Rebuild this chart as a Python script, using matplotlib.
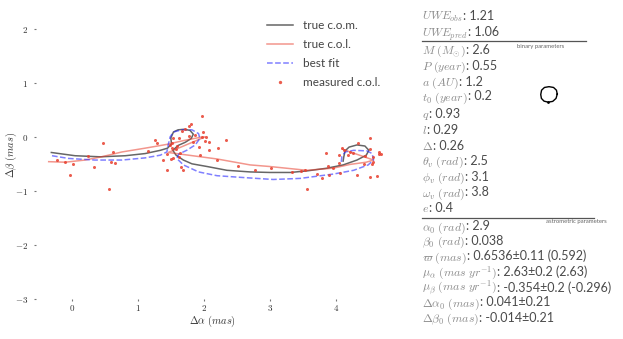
import matplotlib
matplotlib.use("Agg")
import matplotlib.pyplot as plt
from matplotlib.lines import Line2D

plt.rcParams['mathtext.fontset'] = 'cm'
plt.rcParams['font.family'] = ['Lato', 'DejaVu Sans']

# true centre of mass track (mas)
com_x = [-0.31, 0.05, 0.43, 0.81, 1.11, 1.34, 1.45, 1.51, 1.50, 1.54, 1.61, 1.70, 1.79, 1.84,
         1.81, 1.72, 1.61, 1.53, 1.58, 1.69, 1.82, 2.05, 2.35, 2.70, 3.00, 3.31, 3.57, 3.87,
         4.11, 4.32, 4.46, 4.50, 4.44, 4.32, 4.20, 4.14, 4.12, 4.11]
com_y = [-0.28, -0.34, -0.36, -0.34, -0.30, -0.24, -0.20, -0.12, -0.01, 0.10, 0.14, 0.15, 0.13, 0.06,
         -0.02, -0.09, -0.15, -0.24, -0.33, -0.42, -0.49, -0.54, -0.61, -0.64, -0.65, -0.65, -0.62, -0.57,
         -0.51, -0.42, -0.33, -0.24, -0.16, -0.14, -0.18, -0.25, -0.36, -0.44]

# true centre of light track
col_x = [-0.35, -0.10, 0.20, 0.45, 0.76, 1.11, 1.44, 1.69, 1.94, 2.02, 1.46, 2.20, 2.70, 3.00,
         3.56, 3.96, 4.22, 4.46, 4.57, 4.10]
col_y = [-0.45, -0.46, -0.42, -0.36, -0.27, -0.20, -0.13, -0.06, 0.00, 0.01, -0.28, -0.40, -0.51, -0.54,
         -0.61, -0.57, -0.50, -0.46, -0.42, -0.22]

# best fit track
fit_x = [-0.30, -0.05, 0.35, 0.76, 1.11, 1.34, 1.44, 1.46, 1.49, 1.54, 1.67, 1.82, 1.92, 1.94,
         1.87, 1.74, 1.62, 1.59, 1.69, 1.92, 2.20, 2.55, 3.05, 3.46, 3.96, 4.27, 4.49, 4.57,
         4.55, 4.47, 4.27, 4.14, 4.09, 4.08]
fit_y = [-0.34, -0.39, -0.42, -0.42, -0.38, -0.33, -0.27, -0.14, 0.01, 0.10, 0.14, 0.14, 0.07, -0.02,
         -0.14, -0.24, -0.31, -0.39, -0.51, -0.64, -0.71, -0.74, -0.78, -0.76, -0.68, -0.61, -0.51, -0.42,
         -0.30, -0.25, -0.24, -0.27, -0.36, -0.48]

# measured centre of light
obs_x = [-0.23, -0.10, 0.02, -0.03, 0.24, 0.33, 0.48, 0.62, 0.59, 0.66, 0.57, 1.26, 1.29, 1.16,
         1.38, 1.44, 1.44, 1.50, 1.53, 1.52, 1.52, 1.48, 1.54, 1.59, 1.58, 1.63, 1.64, 1.62,
         1.65, 1.69, 1.67, 1.72, 1.78, 1.80, 1.97, 1.77, 1.87, 1.84, 1.98, 1.97, 2.03, 2.02,
         1.93, 2.08, 2.08, 2.21, 2.33, 1.94, 2.20, 2.52, 2.78, 3.02, 3.33, 3.47, 3.53, 3.56,
         3.72, 3.79, 3.85, 3.88, 3.90, 3.96, 4.05, 4.06, 4.05, 4.09, 4.13, 4.18, 4.21, 4.26,
         4.34, 4.51, 4.52, 4.44, 4.56, 4.57, 4.55, 4.42, 4.66, 4.69, 4.65, 4.32, 4.52, 4.62]
obs_y = [-0.41, -0.45, -0.49, -0.69, -0.34, -0.54, -0.10, -0.28, -0.46, -0.48, -0.95, -0.04, -0.10, -0.25,
         -0.41, -0.31, -0.61, -0.40, -0.38, -0.19, -0.11, -0.14, -0.02, -0.16, -0.22, -0.02, -0.29, -0.37,
         -0.54, -0.61, 0.12, 0.15, 0.21, 0.24, 0.40, 0.02, 0.04, -0.09, 0.10, 0.00, 0.00, -0.07,
         -0.17, -0.09, -0.24, -0.20, -0.04, -0.33, -0.41, -0.53, -0.61, -0.56, -0.65, -0.62, -0.61, -0.96,
         -0.67, -0.75, -0.29, -0.53, -0.69, -0.56, -0.47, -0.66, -0.32, -0.20, -0.23, -0.33, -0.28, -0.29,
         -0.11, -0.02, -0.22, -0.34, -0.36, -0.46, -0.50, -0.50, -0.28, -0.30, -0.31, -0.69, -0.73, -0.71]

# small orbit sketch (arbitrary units)
orbit_x = [1.0, 0.9, 0.55, 0.0, -0.55, -0.9, -1.0, -0.92, -0.6, -0.1, 0.45, 0.85, 1.0]
orbit_y = [0.05, 0.55, 0.9, 1.0, 0.9, 0.55, 0.0, -0.5, -0.85, -0.98, -0.88, -0.5, 0.05]

xticks = [0, 1, 2, 3, 4]
yticks = [-3, -2, -1, 0, 1, 2]

param_labels = [r'$UWE_{obs}$', r'$UWE_{pred}$', r'$M\ (M_{\odot})$', r'$P\ (year)$', r'$a\ (AU)$',
                r'$t_0\ (year)$', r'$q$', r'$l$', r'$\Delta$', r'$\theta_v\ (rad)$', r'$\phi_v\ (rad)$',
                r'$\omega_v\ (rad)$', r'$e$', r'$\alpha_0\ (rad)$', r'$\beta_0\ (rad)$', r'$\varpi\ (mas)$',
                r'$\mu_\alpha\ (mas\ yr^{-1})$', r'$\mu_\beta\ (mas\ yr^{-1})$', r'$\Delta\alpha_0\ (mas)$',
                r'$\Delta\beta_0\ (mas)$']
param_values = ['1.21', '1.06', '2.6', '0.55', '1.2', '0.2', '0.93', '0.29', '0.26', '2.5', '3.1',
                '3.8', '0.4', '2.9', '0.038', '0.6536±0.11 (0.592)', '2.63±0.2 (2.63)',
                '-0.354±0.2 (-0.296)', '0.041±0.21', '-0.014±0.21']

# text baselines of the parameter rows, pixels from the top
row_base = [20, 36.5, 54, 70, 85.5, 100.5, 118, 133.5, 149.5, 165, 181, 196.5, 212, 230.5,
            245, 260.5, 276, 291.5, 306.5, 321.5]

W, H = 623, 339
fig = plt.figure(figsize=(W / 100, H / 100), dpi=100)
ax = fig.add_axes([35.5 / W, 1 - 299.3 / H, (390 - 35.5) / W, (299.3 - 10) / H])

ax.plot(com_x, com_y, color='k', alpha=0.6, lw=1.1, label='true c.o.m.')
ax.plot(col_x, col_y, color='#e8402f', alpha=0.55, lw=1.1, label='true c.o.l.')
ax.plot(fit_x, fit_y, color='#2b2bff', alpha=0.6, lw=1.1, ls='--', label='best fit')
ax.plot(obs_x, obs_y, ls='none', marker='o', ms=2.2, color='#e8402f', alpha=0.85,
        markeredgewidth=0, label='measured c.o.l.')

ax.set_xlim(-0.55, 4.82)
ax.set_ylim(-3.0, 2.36)
ax.set_xticks(xticks)
ax.set_yticks(yticks)
ax.set_xticklabels([f'${t}$' for t in xticks])
ax.set_yticklabels([f'${t}$' for t in yticks])
for s in ax.spines.values():
    s.set_visible(False)
ax.tick_params(length=1.5, width=0.8, color='#777777', labelsize=6.5, labelcolor='#333333')
ax.tick_params(axis='x', pad=1.5)
ax.tick_params(axis='y', pad=4)
ax.set_xlabel(r'$\Delta\alpha\ (mas)$', fontsize=7.5, labelpad=0.5, color='#333333')
ax.set_ylabel(r'$\Delta\beta\ (mas)$', fontsize=7.5, color='#333333')
ax.yaxis.set_label_coords(-0.046, 0.5)

leg = ax.legend(loc='upper right', frameon=False, fontsize=8.5, handlelength=2.2,
                labelspacing=0.68, borderaxespad=0.45, markerscale=1.1)
for t in leg.get_texts():
    t.set_color('#444444')

# parameter panel: light symbol, darker value
renderer = fig.canvas.get_renderer()
for lab, val, yb in zip(param_labels, param_values, row_base):
    base = 1 - yb / H
    t = fig.text(422 / W, base, lab, fontsize=8.5, color='#8c8c8c', va='baseline', ha='left')
    bb = t.get_window_extent(renderer)
    fig.text(bb.x1 / W, base, ': ' + val, fontsize=9, color='#4a4a4a', va='baseline', ha='left')

fig.add_artist(Line2D([421.7 / W, 585.7 / W], [1 - 41.3 / H] * 2, color='#555555', lw=0.9))
fig.add_artist(Line2D([422 / W, 594 / W], [1 - 217.7 / H] * 2, color='#555555', lw=0.9))
fig.text(517 / W, 1 - 46.5 / H, 'binary parameters', fontsize=4.3, color='#666666', va='center')
fig.text(546 / W, 1 - 222 / H, 'astrometric parameters', fontsize=4.3, color='#666666', va='center')

# small orbit view
oax = fig.add_axes([539.5 / W, 1 - 103.5 / H, 19 / W, 18 / H])
oax.plot(orbit_x, orbit_y, color='k', lw=1.0)
oax.plot([orbit_x[9]], [orbit_y[9]], 'k.', ms=2)
oax.set_xlim(-1.15, 1.15)
oax.set_ylim(-1.15, 1.15)
oax.axis('off')

fig.savefig('out.png', dpi=100)
